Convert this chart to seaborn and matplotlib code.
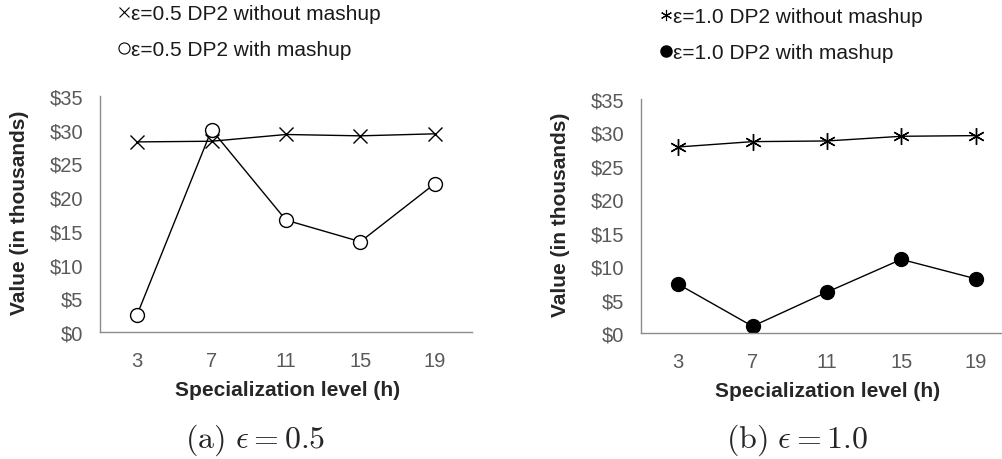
import pandas as pd
import matplotlib
matplotlib.use("Agg")
import matplotlib.pyplot as plt
from matplotlib.lines import Line2D
from matplotlib.ticker import FuncFormatter
import seaborn as sns

# specialization levels (h)
levels = [3, 7, 11, 15, 19]

# values in thousands of dollars
eps05_without = [28.2, 28.3, 29.3, 29.1, 29.4]
eps05_with = [2.6, 30.0, 16.6, 13.4, 22.0]
eps10_without = [27.8, 28.6, 28.7, 29.4, 29.5]
eps10_with = [7.3, 1.0, 6.1, 11.0, 8.1]

yticks = [0, 5, 10, 15, 20, 25, 30, 35]

sns.set_style("white")
plt.rcParams["font.family"] = ["Liberation Sans", "DejaVu Sans"]
plt.rcParams["mathtext.fontset"] = "cm"

GREY = "#595959"


def draw_series(ax, values, marker, face, size):
    df = pd.DataFrame({"h": levels, "value": values})
    sns.pointplot(data=df, x="h", y="value", ax=ax, color="black",
                  marker=marker, markersize=size, markerfacecolor=face,
                  markeredgecolor="black", markeredgewidth=1.0,
                  linewidth=1.0, errorbar=None)


def style_axes(ax):
    ax.set_ylim(0, 35)
    ax.set_xlim(-0.5, len(levels) - 0.5)
    ax.set_yticks(yticks)
    ax.yaxis.set_major_formatter(FuncFormatter(lambda v, p: f"${v:.0f}"))
    sns.despine(ax=ax)
    for side in ["left", "bottom"]:
        ax.spines[side].set_color("#8c8c8c")
        ax.spines[side].set_linewidth(1.0)
    ax.tick_params(axis="both", length=0, labelsize=14.5, labelcolor=GREY)
    ax.tick_params(axis="y", pad=12)
    ax.tick_params(axis="x", pad=14)
    ax.set_xlabel("Specialization level (h)", fontsize=15, fontweight="bold")
    ax.set_ylabel("Value (in thousands)", fontsize=15, fontweight="bold")
    ax.xaxis.set_label_coords(0.503, -0.205)
    ax.yaxis.set_label_coords(-0.19, 0.508)


fig = plt.figure(figsize=(10.03, 4.6), dpi=100)
ax1 = fig.add_axes([0.0997, 0.276, 0.3709, 0.513])
ax2 = fig.add_axes([0.639, 0.274, 0.3709, 0.509])

draw_series(ax1, eps05_without, "x", "none", 10)
draw_series(ax1, eps05_with, "o", "white", 10)
draw_series(ax2, eps10_without, (6, 2, 0), "none", 12)
draw_series(ax2, eps10_with, "o", "black", 10)

style_axes(ax1)
style_axes(ax2)

legend_kw = dict(loc="upper left", frameon=False, fontsize=15,
                 handlelength=0.55, handletextpad=0.05, borderpad=0,
                 labelspacing=0.8, labelcolor="#1a1a1a")

h1 = [Line2D([], [], ls="none", marker="x", color="black", ms=7, mew=0.8),
      Line2D([], [], ls="none", marker="o", mfc="white", mec="black", ms=8, mew=0.8)]
fig.legend(h1, ["ε=0.5 DP2 without mashup", "ε=0.5 DP2 with mashup"],
           bbox_to_anchor=(108 / 1003, 1 + 5 / 460), **legend_kw)

h2 = [Line2D([], [], ls="none", marker=(6, 2, 0), color="black", ms=8, mew=0.8),
      Line2D([], [], ls="none", marker="o", mfc="black", mec="black", ms=8)]
fig.legend(h2, ["ε=1.0 DP2 without mashup", "ε=1.0 DP2 with mashup"],
           bbox_to_anchor=(650 / 1003, 1 + 2 / 460), **legend_kw)

fig.text(255 / 1003, 1 - 440 / 460, r"$\mathrm{(a)}\ \epsilon = 0.5$",
         ha="center", va="center", fontsize=23)
fig.text(797 / 1003, 1 - 440 / 460, r"$\mathrm{(b)}\ \epsilon = 1.0$",
         ha="center", va="center", fontsize=23)

fig.savefig("out.png", dpi=100)
plt.close(fig)
